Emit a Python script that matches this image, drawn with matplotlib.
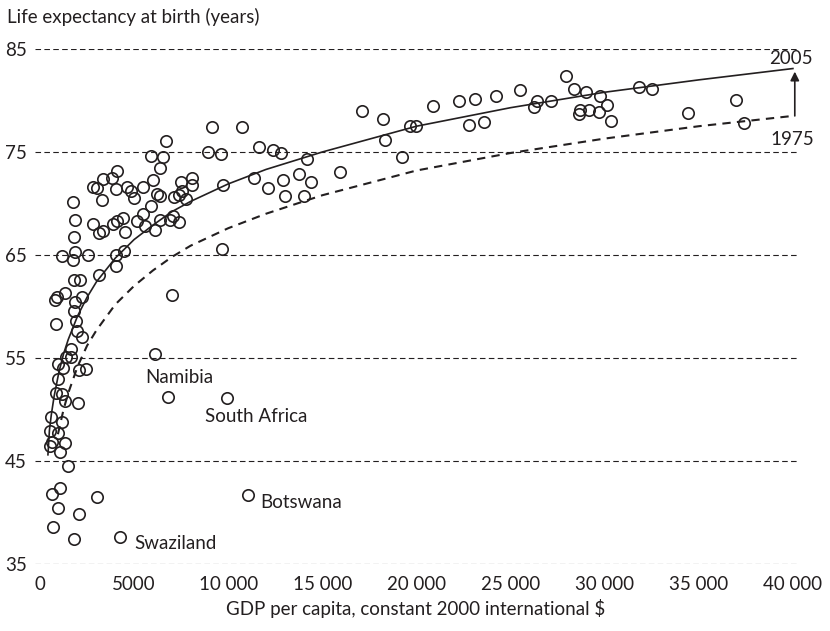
import matplotlib
matplotlib.use("Agg")
import matplotlib.pyplot as plt

# GDP per capita (constant 2000 international $) and life expectancy, 2005
gdp = [9120, 10720, 11640, 12400, 12790, 8900, 9620, 6700, 5900, 6520,
       6380, 6000, 4090, 3810, 3360, 2790, 3010, 4040, 4610, 4810,
       5000, 5450, 3280, 6240, 6380, 7120, 7360, 7470, 7520, 7780,
       8060, 8070, 5880, 5450, 5140, 5580, 4400, 4090, 3890, 4520,
       3360, 3120, 2830, 6110, 6380, 6910, 7080, 7390, 4040, 4440,
       4040, 3110, 9650, 6990, 9740, 11370, 12110, 12900, 13020, 13780,
       14380, 14030, 14210, 15940, 17110, 18240, 18350, 19250, 19660, 19960,
       20900, 22280, 23110, 22780, 23610, 24230, 25500, 26250, 26430, 27130,
       27950, 28370, 29010, 29760, 30140, 28690, 29190, 29690, 28620, 30320,
       31810, 32540, 34450, 36980, 37420,
       1740, 1860, 1810, 1860, 1150, 1770, 2540, 1820, 2130, 1330,
       880, 800, 1860, 2220, 1830, 850, 1900, 1970, 2230, 1620,
       1380, 1670, 960, 1240, 2060, 2460, 950, 850, 1150, 1310,
       2040, 580, 1150, 550, 970, 620, 1330, 530, 1050, 1490,
       620, 1060, 3030, 960, 2080, 680, 1810, 4270, 6820, 9960, 11030, 6110]
life_exp = [77.4, 77.4, 75.5, 75.2, 74.9, 75.0, 74.8, 76.1, 74.6, 74.5,
            73.4, 72.3, 73.2, 72.5, 72.4, 71.6, 71.5, 71.4, 71.6, 71.2,
            70.5, 71.6, 70.3, 70.9, 70.7, 70.6, 70.8, 72.1, 71.2, 70.4,
            72.5, 71.8, 69.8, 69.0, 68.3, 67.8, 68.6, 68.3, 68.0, 67.2,
            67.3, 67.1, 68.0, 67.4, 68.4, 68.4, 68.8, 68.2, 65.0, 65.4,
            63.9, 63.1, 65.6, 61.1, 71.8, 72.5, 71.5, 72.3, 70.7, 72.9,
            72.1, 70.7, 74.3, 73.1, 79.0, 78.2, 76.2, 74.5, 77.5, 77.5,
            79.5, 79.9, 80.1, 77.6, 77.9, 80.4, 81.0, 79.4, 79.9, 79.9,
            82.4, 81.1, 80.8, 80.4, 79.6, 79.1, 79.1, 78.9, 78.7, 78.0,
            81.3, 81.1, 78.8, 80.0, 77.8,
            70.1, 68.4, 66.7, 65.3, 64.9, 64.5, 65.0, 62.6, 62.6, 61.3,
            60.9, 60.6, 60.4, 60.9, 59.6, 58.3, 58.6, 57.6, 57.0, 55.9,
            55.1, 55.1, 54.4, 54.0, 53.8, 53.9, 53.0, 51.6, 51.5, 50.8,
            50.6, 49.3, 48.8, 47.9, 47.7, 46.8, 46.7, 46.5, 45.9, 44.5,
            41.8, 42.4, 41.5, 40.4, 39.9, 38.6, 37.4, 37.6, 51.2, 51.1, 41.7, 55.4]

# fitted curves, 2005 (solid) and 1975 (dashed)
curve_2005_gdp = [420, 500, 600, 750, 1000, 1250, 1500, 2000, 2500, 3000, 4000, 5000,
                  6000, 7000, 8000, 10000, 12000, 15000, 20000, 25000, 30000,
                  35000, 40000]
curve_2005_le = [45.6, 48.0, 49.5, 51.3, 53.6, 55.4, 56.8, 59.1, 60.9, 62.4, 64.7, 66.5,
                 67.9, 69.2, 70.2, 71.9, 73.3, 75.0, 77.5, 79.3, 80.8,
                 82.0, 83.1]
curve_1975_gdp = [950, 1000, 1250, 1500, 2000, 2500, 3000, 4000, 5000, 6000, 7000,
                  8000, 10000, 12000, 15000, 20000, 25000, 30000, 35000, 40000]
curve_1975_le = [47.6, 48.0, 50.0, 51.6, 54.2, 56.2, 57.7, 60.2, 62.0, 63.5, 64.8,
                 65.9, 67.6, 69.0, 70.8, 73.2, 74.9, 76.3, 77.5, 78.5]

# labelled countries: text anchor (left, centre)
country_names = ["Namibia", "South Africa", "Botswana", "Swaziland"]
country_text_x = [5580, 8770, 11690, 5000]
country_text_y = [53.1, 49.3, 41.0, 37.0]

x_ticks = [0, 5000, 10000, 15000, 20000, 25000, 30000, 35000, 40000]
x_tick_labels = ["0", "5000", "10 000", "15 000", "20 000", "25 000",
                 "30 000", "35 000", "40 000"]
y_ticks = [35, 45, 55, 65, 75, 85]

ink = "#231f20"
plt.rcParams["font.family"] = ["Lato", "DejaVu Sans"]
plt.rcParams["font.size"] = 13.5

fig = plt.figure(figsize=(8.30, 6.31), dpi=100)
ax = fig.add_axes([0.0422, 0.1062, 0.9181, 0.8162])

ax.set_xlim(-266, 40220)
ax.set_ylim(35, 85)

for y in y_ticks:
    ax.axhline(y, color=ink, lw=0.8, dashes=(5, 3), zorder=1)

ax.plot(gdp, life_exp, linestyle="none", marker="o", markersize=8.2,
        markerfacecolor="none", markeredgecolor=ink, markeredgewidth=1.2, zorder=3)

ax.plot(curve_2005_gdp, curve_2005_le, color=ink, lw=1.2, zorder=2)
ax.plot(curve_1975_gdp, curve_1975_le, color=ink, lw=1.5, dashes=(4, 3), zorder=2)

# arrow showing the upward shift of the curve
ax.annotate("", xy=(40100, curve_2005_le[-1] - 0.3), xytext=(40100, curve_1975_le[-1]),
            arrowprops=dict(arrowstyle="-|>", color=ink, lw=1.2, mutation_scale=13,
                            shrinkA=0, shrinkB=0))
ax.text(39900, 84.1, "2005", ha="center", va="center", color=ink)
ax.text(39950, 76.2, "1975", ha="center", va="center", color=ink)

for name, tx, ty in zip(country_names, country_text_x, country_text_y):
    ax.text(tx, ty, name, ha="left", va="center", color=ink)

ax.set_xticks(x_ticks)
ax.set_xticklabels(x_tick_labels)
ax.set_yticks(y_ticks)
ax.tick_params(length=0, colors=ink, labelsize=13.5)
ax.tick_params(axis="x", pad=9)
ax.tick_params(axis="y", pad=6)
for spine in ax.spines.values():
    spine.set_visible(False)

fig.text(7 / 830, 1 - 17 / 631, "Life expectancy at birth (years)",
         ha="left", va="center", color=ink, fontsize=13.5)
fig.text(416 / 830, 1 - 608 / 631, "GDP per capita, constant 2000 international $",
         ha="center", va="center", color=ink, fontsize=13.5)

fig.savefig("out.png", dpi=100)
